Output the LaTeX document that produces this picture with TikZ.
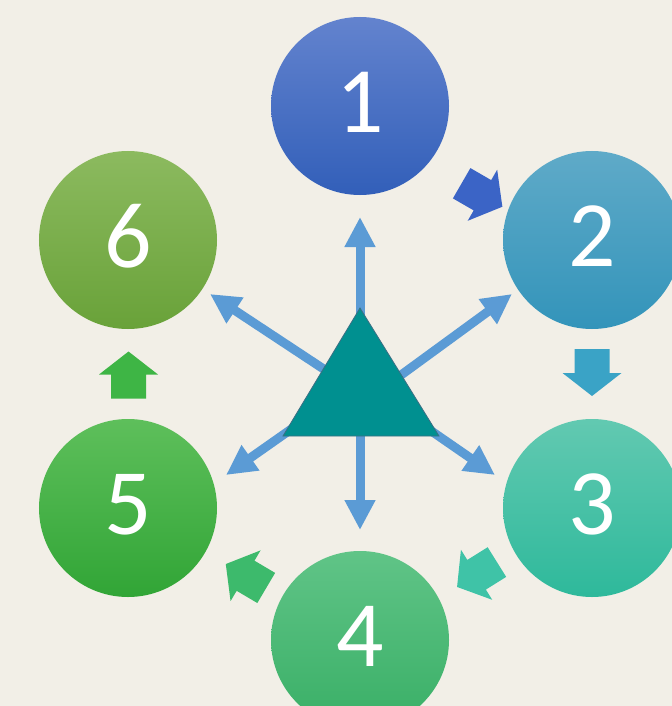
\documentclass[tikz,border=0pt]{standalone}
\usepackage{fontspec}
\setmainfont{Carlito}
\usetikzlibrary{arrows.meta}
\definecolor{bg}{HTML}{F2EFE7}
\definecolor{c1t}{HTML}{6383CE}
\definecolor{c1b}{HTML}{325FB9}
\definecolor{c2t}{HTML}{5FAAC8}
\definecolor{c2b}{HTML}{3394BA}
\definecolor{c3t}{HTML}{62C9B1}
\definecolor{c3b}{HTML}{2EB99B}
\definecolor{c4t}{HTML}{60C487}
\definecolor{c4b}{HTML}{39AF66}
\definecolor{c5t}{HTML}{5EBF5B}
\definecolor{c5b}{HTML}{31A536}
\definecolor{c6t}{HTML}{8CBA5F}
\definecolor{c6b}{HTML}{69A239}
\definecolor{a12}{HTML}{3B64C6}
\definecolor{a23}{HTML}{3AA3C6}
\definecolor{a34}{HTML}{3FC3A7}
\definecolor{a45}{HTML}{3DBA6C}
\definecolor{a56}{HTML}{3EB545}
\definecolor{spoke}{HTML}{5B9BD5}
\definecolor{tri}{HTML}{009090}
\definecolor{triedge}{HTML}{3B6F84}
\newcommand\blkarrow[4]{%
  \fill[#4, shift={(#1,#2)}, rotate=#3]
    (-23.5,-17.5) -- (0.5,-17.5) -- (0.5,-29.5) -- (23.5,0)
    -- (0.5,29.5) -- (0.5,17.5) -- (-23.5,17.5) -- cycle;}
\tikzset{
  circ/.style={circle, minimum size=178bp, inner sep=0pt},
  num/.style={text=white, inner sep=0pt, font=\fontsize{94}{94}\selectfont},
  spk/.style={draw=spoke, line width=9bp, -{Triangle[width=29bp,length=30bp]}}
}
\begin{document}
\begin{tikzpicture}[x=1bp,y=-1bp]
\useasboundingbox (0,0) rectangle (672,706);
\fill[bg] (0,0) rectangle (672,706);
\clip (0,0) rectangle (672,706);

% circles
\node[circ, top color=c1t, bottom color=c1b] (c1) at (360,106) {};
\node[circ, top color=c2t, bottom color=c2b] (c2) at (592,240) {};
\node[circ, top color=c3t, bottom color=c3b] (c3) at (592,508) {};
\node[circ, top color=c4t, bottom color=c4b] (c4) at (360,640) {};
\node[circ, top color=c5t, bottom color=c5b] (c5) at (128,508) {};
\node[circ, top color=c6t, bottom color=c6b] (c6) at (128,240) {};

\node[num] (n1) at ([yshift=3.5bp]c1.center) {1};
\node[num] (n2) at ([yshift=3.5bp]c2.center) {2};
\node[num] (n3) at ([yshift=3.5bp]c3.center) {3};
\node[num] (n4) at ([yshift=3.5bp]c4.center) {4};
\node[num] (n5) at ([yshift=3.5bp]c5.center) {5};
\node[num] (n6) at ([yshift=3.5bp]c6.center) {6};

% block arrows between circles
\blkarrow{482}{195}{-30}{a12}
\blkarrow{592}{372.5}{-90}{a23}
\blkarrow{477}{574.5}{-148}{a34}
\blkarrow{246}{576}{149.4}{a45}
\blkarrow{128.5}{375}{90}{a56}

% spokes
\coordinate (s1) at (360,330);   \coordinate (e1) at (360,217);
\coordinate (s4) at (360,420);   \coordinate (e4) at (360,530);
\coordinate (s6) at (360,393);   \coordinate (e6) at (210,294);
\coordinate (s2) at (360,405);   \coordinate (e2) at (512,294);
\coordinate (s5) at (300,423);   \coordinate (e5) at (226,475);
\coordinate (s3) at (423.5,425.6); \coordinate (e3) at (495,475);
\foreach \i in {1,2,3,4,5,6} \draw[spk] (s\i) -- (e\i);

% triangle
\coordinate (tA) at (360,308);
\coordinate (tB) at (283,436);
\coordinate (tC) at (439,436);
\filldraw[fill=tri, draw=triedge, line width=0.8bp, line join=miter] (tA) -- (tB) -- (tC) -- cycle;
\end{tikzpicture}
\end{document}
